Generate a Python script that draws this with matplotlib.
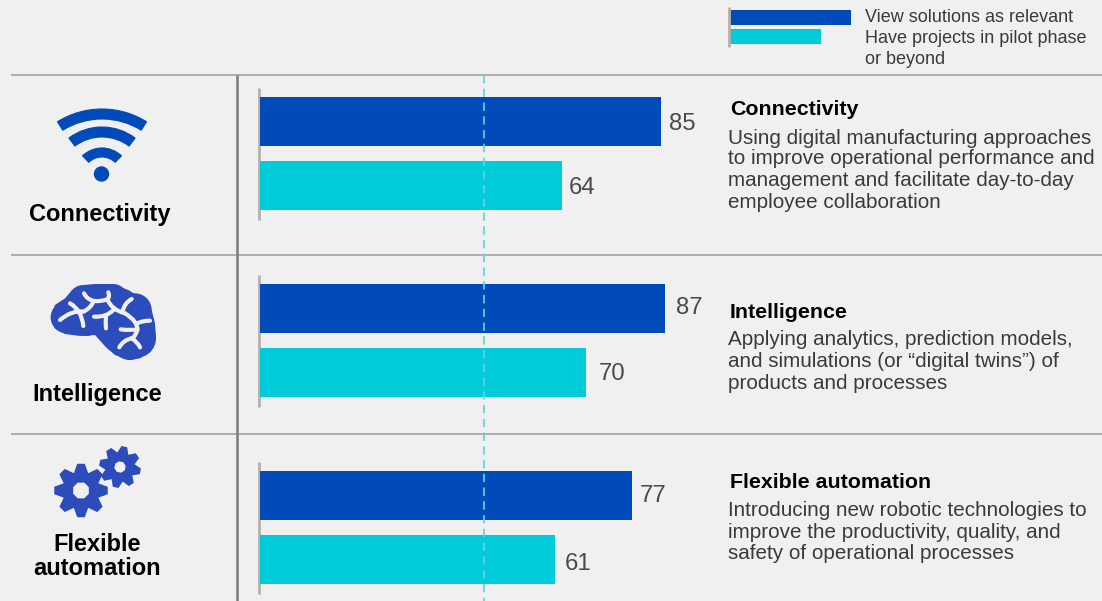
import numpy as np
import matplotlib
matplotlib.use("Agg")
import matplotlib.pyplot as plt
from matplotlib.patches import Circle, Wedge, Polygon, Rectangle, PathPatch
from matplotlib.path import Path

plt.rcParams['font.family'] = ['Liberation Sans', 'DejaVu Sans']

#values
categories = ["Connectivity", "Intelligence", "Flexible automation"]
left_labels = ["Connectivity", "Intelligence", "Flexible\nautomation"]
relevant = [85, 87, 77]
pilot = [64, 70, 61]
series_names = ["View solutions as relevant", "Have projects in pilot phase\nor beyond"]
descriptions = [
    "Using digital manufacturing approaches\nto improve operational performance and\nmanagement and facilitate day-to-day\nemployee collaboration",
    "Applying analytics, prediction models,\nand simulations (or \u201cdigital twins\u201d) of\nproducts and processes",
    "Introducing new robotic technologies to\nimprove the productivity, quality, and\nsafety of operational processes",
]
reference_value = 47.5

BG = "#f0f0f0"
BLUE = "#004bb9"
CYAN = "#00ccd9"
ICON = "#2b4cba"
TXT = "#3a3a3a"
W, H = 1102, 601

#the panels of the original are not drawn to one scale
px_per_unit = [4.72, 4.65, 4.83]

fig = plt.figure(figsize=(W/100, H/100), dpi=100, facecolor=BG)

#overlay in pixel coords for rules, icons and text
pg = fig.add_axes([0, 0, 1, 1], facecolor="none")
pg.set_xlim(0, W)
pg.set_ylim(H, 0)
pg.axis("off")

blue_y = [121.5, 308.5, 495.5]
cyan_y = [185.5, 372.5, 559.5]
label_gap = [(8, 7), (11, 13), (8, 10)]
label_dy = [(2, 3), (0, 1), (1, 5)]
axes = []
for i in range(3):
    ax = fig.add_axes([260/W, 0, (W-260)/W, 1], facecolor="none")
    ax.set_xlim(0, (W-260)/px_per_unit[i])
    ax.set_ylim(H, 0)
    ax.axis("off")
    ax.barh(blue_y[i], relevant[i], height=49, color=BLUE)
    ax.barh(cyan_y[i], pilot[i], height=49, color=CYAN)
    for y, v, gap, dy in zip((blue_y[i], cyan_y[i]), (relevant[i], pilot[i]), label_gap[i], label_dy[i]):
        ax.annotate(str(v), (v, y + dy), xytext=(gap*0.72, 0), textcoords="offset points", va="center",
                    ha="left", fontsize=17.2, color="#4a4a4a")
    axes.append(ax)

#dashed line has to sit above the bars of all three panels
axes[0].set_zorder(3)
axes[0].plot([reference_value, reference_value], [75, H], color="#62d2de", alpha=0.85, lw=1.5,
             ls=(0, (4, 2.6)), zorder=5, dash_capstyle="butt")

#rules
for y in [75, 255, 434]:
    pg.plot([11, W], [y, y], color="#a3a3a3", lw=1.2, solid_capstyle="butt")
pg.plot([237, 237], [75, H], color="#808080", lw=1.9, solid_capstyle="butt")
for y0, y1 in [(88, 220), (275, 407), (462, 594)]:
    pg.plot([258.7, 258.7], [y0, y1], color="#b8b0a8", lw=2, solid_capstyle="butt")

#legend
pg.plot([728.5, 728.5], [7, 47], color="#b8b0a8", lw=2, solid_capstyle="butt")
pg.add_patch(Rectangle((730, 10), 121, 15, color=BLUE, lw=0))
pg.add_patch(Rectangle((730, 29), 91, 15, color=CYAN, lw=0))
pg.text(865, 18, series_names[0], fontsize=13, color=TXT, va="center")
pg.text(865, 38.5, series_names[1].split("\n")[0], fontsize=13, color=TXT, va="center")
pg.text(865, 60, series_names[1].split("\n")[1], fontsize=13, color=TXT, va="center")

#left labels
pg.text(100, 215, left_labels[0], fontsize=17, fontweight="bold", color="black", ha="center", va="center")
pg.text(97, 395, left_labels[1], fontsize=17, fontweight="bold", color="black", ha="center", va="center")
pg.text(97, 544.5, "Flexible", fontsize=17, fontweight="bold", color="black", ha="center", va="center")
pg.text(97, 568.5, "automation", fontsize=17, fontweight="bold", color="black", ha="center", va="center")

#right column
heading_y = [109.5, 312.5, 482.5]
line_y = [[138, 159, 180.5, 202], [339.5, 361.5, 383.5], [510.5, 532.5, 553.5]]
for name, desc, hy, ys in zip(categories, descriptions, heading_y, line_y):
    pg.text(730, hy, name, fontsize=15.4, fontweight="bold", color="black", va="center")
    for line, y in zip(desc.split("\n"), ys):
        pg.text(727.5, y, line, fontsize=14.9, color=TXT, va="center")

#wifi icon
for cy, r, half, t in [(193, 84, 32, 10), (182, 55, 37, 10), (176, 28, 44, 9)]:
    pg.add_patch(Wedge((102, cy), r, 270-half, 270+half, width=t, fc=BLUE, ec=BLUE, lw=0.8, joinstyle="round"))
pg.add_patch(Circle((101.5, 174), 7.7, color=BLUE, lw=0))

#brain icon, sketched from the crop at 3x
def bx(pts):
    p = np.array(pts, float)
    return p[:, 0]/3, p[:, 1]/3 + 260

brain_outline = [(152, 170), (165, 135), (195, 115), (215, 92), (250, 75), (285, 72), (335, 72), (385, 90),
                 (425, 115), (455, 150), (465, 190), (468, 235), (450, 275), (420, 295), (385, 300), (345, 285),
                 (318, 262), (285, 225), (240, 228), (195, 222), (165, 205)]
x, y = bx(brain_outline)
pg.add_patch(Polygon(np.c_[x, y], closed=True, color=ICON, lw=0))
for c, r in [((200, 172), 48), ((250, 120), 45), ((340, 115), 43), ((405, 150), 50), ((410, 235), 58),
             ((390, 245), 55), ((260, 190), 38)]:
    pg.add_patch(Circle((c[0]/3, c[1]/3+260), r/3, color=ICON, lw=0))

#each stroke is start, control, end of a quadratic curve
strokes = [
    [(180, 180), (215, 150), (250, 155)],
    [(250, 155), (272, 145), (280, 125)],
    [(210, 130), (245, 150), (250, 198)],
    [(252, 100), (270, 135), (322, 118)],
    [(322, 118), (330, 110), (325, 97)],
    [(322, 118), (335, 150), (375, 160)],
    [(375, 160), (415, 185), (412, 210)],
    [(412, 210), (405, 232), (395, 235)],
    [(395, 235), (370, 240), (358, 262)],
    [(395, 235), (412, 245), (420, 262)],
    [(362, 208), (390, 212), (412, 208)],
    [(408, 192), (425, 182), (450, 182)],
    [(368, 155), (372, 130), (395, 117)],
    [(340, 150), (320, 172), (282, 170)],
    [(318, 170), (316, 190), (318, 205)],
]
for s in strokes:
    x, y = bx(s)
    path = Path(np.c_[x, y], [Path.MOVETO, Path.CURVE3, Path.CURVE3])
    pg.add_patch(PathPatch(path, fc="none", ec=BG, lw=3, capstyle="round"))

#gear icons
def gear(cx, cy, r_out, r_body, r_hole, rot, teeth=8):
    pts = []
    step = 2*np.pi/teeth
    for i in range(teeth):
        a = np.radians(rot) + i*step
        for da, r in [(-0.38, r_body), (-0.14, r_out), (0.14, r_out), (0.38, r_body)]:
            pts.append((cx + r*np.sin(a+da), cy - r*np.cos(a+da)))
    pg.add_patch(Polygon(pts, closed=True, color=ICON, lw=0))
    hole = [(cx + r_hole*np.sin(np.radians(rot+22.5+45*k)), cy - r_hole*np.cos(np.radians(rot+22.5+45*k))) for k in range(8)]
    pg.add_patch(Polygon(hole, closed=True, color=BG, lw=0))

gear(81, 490.5, 27, 19, 8.5, 0)
gear(120, 467, 21, 15, 5.8, 12)

fig.savefig("out.png", dpi=100, facecolor=BG)
